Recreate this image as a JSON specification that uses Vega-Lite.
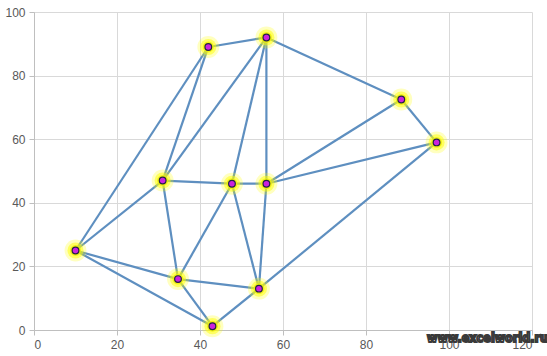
{
  "$schema": "https://vega.github.io/schema/vega-lite/v6.json",
  "width": 498,
  "height": 318,
  "autosize": "none",
  "padding": {"left": 34, "top": 12, "right": 15, "bottom": 26},
  "background": "white",
  "config": {
    "view": {"stroke": null},
    "axis": {
      "labelFont": "Liberation Sans",
      "labelFontSize": 12,
      "labelColor": "#595959",
      "gridColor": "#d9d9d9",
      "gridWidth": 1,
      "domainColor": "#bfbfbf",
      "tickColor": "#bfbfbf",
      "tickSize": 5,
      "title": null
    }
  },
  "datasets": {
    "edges": [
      {"e": 1, "x": 10, "y": 25}, {"e": 1, "x": 42, "y": 89},
      {"e": 2, "x": 10, "y": 25}, {"e": 2, "x": 31, "y": 47},
      {"e": 3, "x": 10, "y": 25}, {"e": 3, "x": 34.7, "y": 16},
      {"e": 4, "x": 10, "y": 25}, {"e": 4, "x": 43, "y": 1.2},
      {"e": 5, "x": 42, "y": 89}, {"e": 5, "x": 56, "y": 92},
      {"e": 6, "x": 42, "y": 89}, {"e": 6, "x": 31, "y": 47},
      {"e": 7, "x": 56, "y": 92}, {"e": 7, "x": 31, "y": 47},
      {"e": 8, "x": 56, "y": 92}, {"e": 8, "x": 47.7, "y": 46},
      {"e": 9, "x": 56, "y": 92}, {"e": 9, "x": 56, "y": 46},
      {"e": 10, "x": 56, "y": 92}, {"e": 10, "x": 88.5, "y": 72.5},
      {"e": 11, "x": 88.5, "y": 72.5}, {"e": 11, "x": 97, "y": 59},
      {"e": 12, "x": 88.5, "y": 72.5}, {"e": 12, "x": 56, "y": 46},
      {"e": 13, "x": 97, "y": 59}, {"e": 13, "x": 56, "y": 46},
      {"e": 14, "x": 97, "y": 59}, {"e": 14, "x": 54.2, "y": 13},
      {"e": 15, "x": 31, "y": 47}, {"e": 15, "x": 47.7, "y": 46},
      {"e": 16, "x": 47.7, "y": 46}, {"e": 16, "x": 56, "y": 46},
      {"e": 17, "x": 31, "y": 47}, {"e": 17, "x": 34.7, "y": 16},
      {"e": 18, "x": 47.7, "y": 46}, {"e": 18, "x": 34.7, "y": 16},
      {"e": 19, "x": 47.7, "y": 46}, {"e": 19, "x": 54.2, "y": 13},
      {"e": 20, "x": 56, "y": 46}, {"e": 20, "x": 54.2, "y": 13},
      {"e": 21, "x": 34.7, "y": 16}, {"e": 21, "x": 54.2, "y": 13},
      {"e": 22, "x": 34.7, "y": 16}, {"e": 22, "x": 43, "y": 1.2},
      {"e": 23, "x": 43, "y": 1.2}, {"e": 23, "x": 54.2, "y": 13}
    ],
    "points": [
      {"x": 10, "y": 25}, {"x": 42, "y": 89}, {"x": 56, "y": 92},
      {"x": 88.5, "y": 72.5}, {"x": 97, "y": 59}, {"x": 31, "y": 47},
      {"x": 47.7, "y": 46}, {"x": 56, "y": 46}, {"x": 34.7, "y": 16},
      {"x": 43, "y": 1.2}, {"x": 54.2, "y": 13}
    ],
    "wm": [{"x": 109.3, "y": -2.6, "t": "www.excelworld.ru"}]
  },
  "layer": [
    {
      "data": {"name": "edges"},
      "mark": {"type": "line", "color": "#5e8fc0", "strokeWidth": 2.2},
      "encoding": {
        "x": {"field": "x", "type": "quantitative", "scale": {"domain": [0, 120]}, "axis": {"values": [0, 20, 40, 60, 80, 100, 120], "labelPadding": 4}},
        "y": {"field": "y", "type": "quantitative", "scale": {"domain": [0, 100]}, "axis": {"values": [0, 10, 20, 30, 40, 50, 60, 70, 80, 90, 100], "labelPadding": 4}},
        "detail": {"field": "e", "type": "nominal"}
      }
    },
    {
      "data": {"name": "points"},
      "mark": {"type": "circle", "color": "#ffff00", "opacity": 0.25, "size": 480},
      "encoding": {"x": {"field": "x", "type": "quantitative"}, "y": {"field": "y", "type": "quantitative"}}
    },
    {
      "data": {"name": "points"},
      "mark": {"type": "circle", "color": "#ffff00", "opacity": 0.5, "size": 260},
      "encoding": {"x": {"field": "x", "type": "quantitative"}, "y": {"field": "y", "type": "quantitative"}}
    },
    {
      "data": {"name": "points"},
      "mark": {"type": "circle", "color": "#f0f000", "opacity": 0.8, "size": 120},
      "encoding": {"x": {"field": "x", "type": "quantitative"}, "y": {"field": "y", "type": "quantitative"}}
    },
    {
      "data": {"name": "points"},
      "mark": {"type": "point", "shape": "circle", "filled": true, "fill": "#cc22dd", "stroke": "#222244", "strokeWidth": 1.2, "opacity": 1, "size": 45},
      "encoding": {"x": {"field": "x", "type": "quantitative"}, "y": {"field": "y", "type": "quantitative"}}
    },
    {
      "data": {"name": "wm"},
      "mark": {"type": "text", "font": "DejaVu Sans Condensed", "fontWeight": "bold", "fontSize": 12.5, "fill": "white", "stroke": "#3a3a3a", "strokeWidth": 1.8, "paintOrder": "stroke", "align": "center", "baseline": "middle", "clip": false},
      "encoding": {"x": {"field": "x", "type": "quantitative"}, "y": {"field": "y", "type": "quantitative"}, "text": {"field": "t"}}
    }
  ]
}
